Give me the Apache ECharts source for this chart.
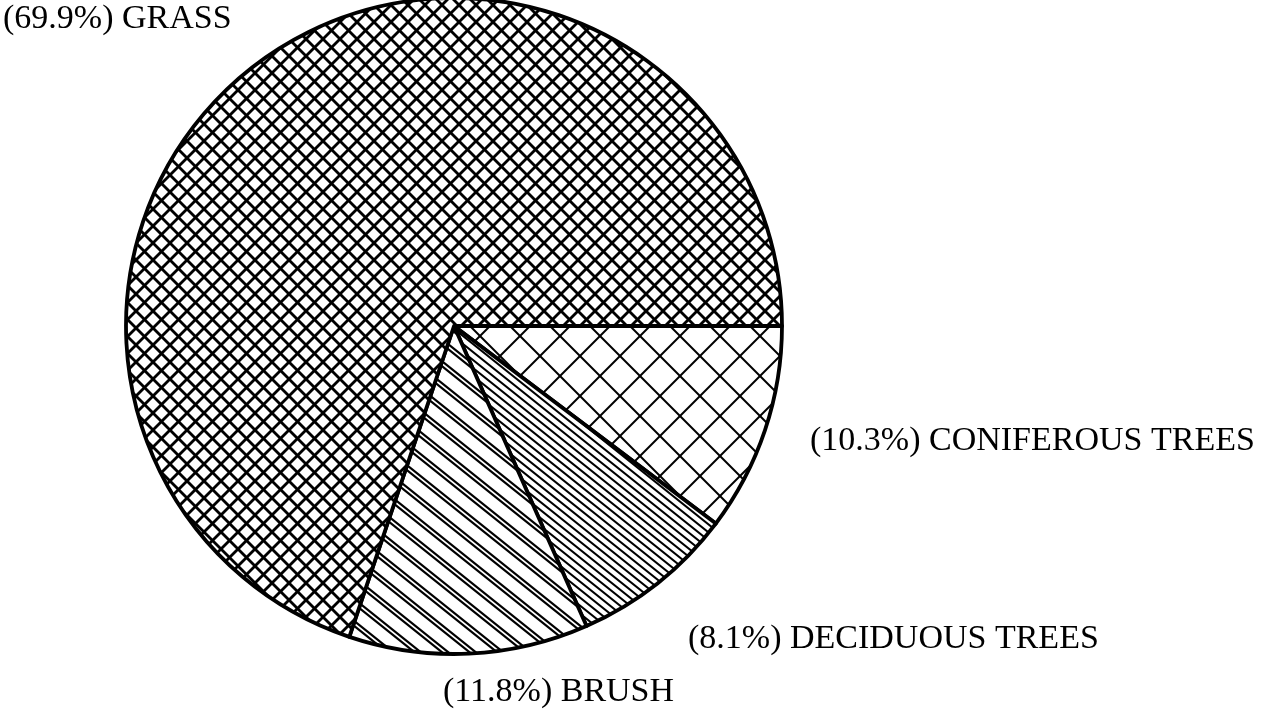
<!DOCTYPE html>
<html>
<head>
    <meta charset="utf-8">
    <script src="https://cdn.jsdelivr.net/npm/echarts@6/dist/echarts.min.js"></script>
    <style>
        html, body { margin: 0; padding: 0; background: #fff; }
        #chart { width: 1268px; height: 716px; }
    </style>
</head>
<body>
<div id="chart"></div>
<script>
    // slices go clockwise from 3 o'clock
    var categories = ['CONIFEROUS TREES', 'DECIDUOUS TREES', 'BRUSH', 'GRASS'];
    var percents = [10.3, 8.1, 11.8, 69.9];

    var W = 1268;
    var H = 716;

    // draw a full-size hatch canvas, lines y = slope * x + c
    function hatch(families) {
        var cv = document.createElement('canvas');
        cv.width = W;
        cv.height = H;
        var ctx = cv.getContext('2d');
        ctx.fillStyle = '#fff';
        ctx.fillRect(0, 0, W, H);
        ctx.strokeStyle = '#000';
        families.forEach(function (f) {
            ctx.lineWidth = f.width;
            var span = Math.abs(f.slope) * W + H;
            for (var c = -span; c < span; c += f.period) {
                f.offsets.forEach(function (o) {
                    ctx.beginPath();
                    ctx.moveTo(0, c + o);
                    ctx.lineTo(W, f.slope * W + c + o);
                    ctx.stroke();
                });
            }
        });
        return {image: cv, repeat: 'no-repeat'};
    }

    var patterns = [
        // coniferous: wide diamond mesh
        hatch([
            {slope: 1, period: 40, offsets: [0], width: 2},
            {slope: -1, period: 40, offsets: [0], width: 2}
        ]),
        // deciduous: dense diagonal lines
        hatch([
            {slope: 0.8, period: 8, offsets: [0], width: 2}
        ]),
        // brush: paired diagonal lines
        hatch([
            {slope: 0.8, period: 22, offsets: [0, 5], width: 2.2}
        ]),
        // grass: fine diamond mesh
        hatch([
            {slope: 1, period: 17, offsets: [0], width: 2.8},
            {slope: -1, period: 17, offsets: [0], width: 2.8}
        ])
    ];

    // label anchor points (left edge, vertical middle)
    var labelPos = [
        [810, 441],
        [688, 639],
        [443, 692],
        [3, 19]
    ];

    var chart = echarts.init(document.getElementById('chart'));

    chart.setOption({
        backgroundColor: '#fff',
        animation: false,
        series: [
            {
                type: 'pie',
                center: [454, 326],
                radius: [0, 328],
                startAngle: 0,
                clockwise: true,
                avoidLabelOverlap: false,
                itemStyle: {
                    borderColor: '#000',
                    borderWidth: 3.8
                },
                emphasis: {disabled: true},
                label: {
                    show: true,
                    position: 'outside',
                    formatter: '({c}%) {b}',
                    fontFamily: 'Liberation Serif',
                    fontSize: 34,
                    color: '#000'
                },
                labelLine: {show: false},
                labelLayout: function (params) {
                    var p = labelPos[params.dataIndex];
                    return {
                        x: p[0],
                        y: p[1],
                        align: 'left',
                        verticalAlign: 'middle'
                    };
                },
                data: categories.map(function (name, i) {
                    return {
                        name: name,
                        value: percents[i],
                        itemStyle: {color: patterns[i]}
                    };
                })
            }
        ]
    });
</script>
</body>
</html>
